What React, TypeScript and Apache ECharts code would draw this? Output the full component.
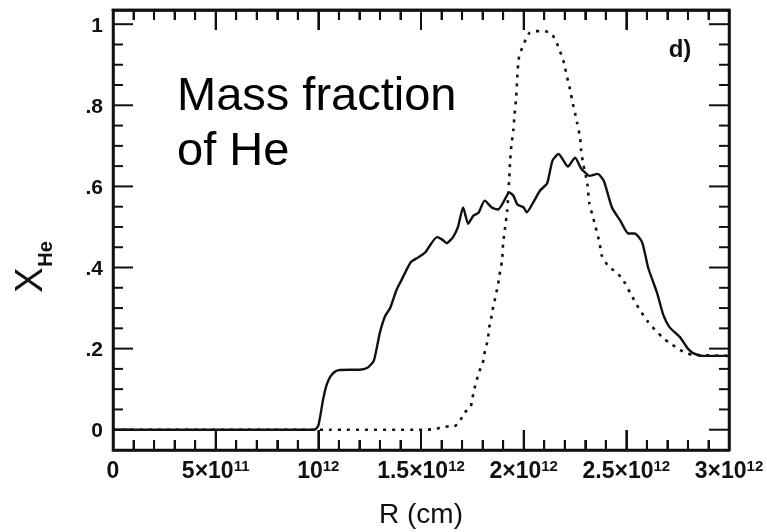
import React, { useEffect, useRef } from "react";
import * as echarts from "echarts";

// Radius in units of 10^12 cm, helium mass fraction X_He
const solidR = [
  0, 0.5, 0.98, 1.0, 1.023, 1.04, 1.057, 1.08, 1.1, 1.15, 1.2, 1.237, 1.27, 1.3, 1.325, 1.35,
  1.38, 1.4, 1.45, 1.486, 1.52, 1.578, 1.6, 1.625, 1.656, 1.68, 1.705, 1.73, 1.755, 1.78, 1.81,
  1.845, 1.875, 1.9, 1.93, 1.95, 1.97, 2.0, 2.015, 2.046, 2.08, 2.114, 2.14, 2.17, 2.216, 2.25,
  2.28, 2.3, 2.32, 2.36, 2.39, 2.43, 2.47, 2.51, 2.54, 2.577, 2.606, 2.65, 2.68, 2.71, 2.76,
  2.8, 2.825, 2.874, 3.0,
];
const solidX = [
  0, 0, 0, 0.01, 0.074, 0.11, 0.13, 0.143, 0.147, 0.148, 0.148, 0.152, 0.17, 0.24, 0.28, 0.3,
  0.344, 0.364, 0.413, 0.425, 0.437, 0.475, 0.47, 0.46, 0.475, 0.5, 0.548, 0.508, 0.528, 0.535, 0.565,
  0.548, 0.543, 0.56, 0.585, 0.577, 0.555, 0.548, 0.536, 0.56, 0.59, 0.607, 0.663, 0.68, 0.649, 0.671,
  0.644, 0.634, 0.626, 0.631, 0.614, 0.548, 0.516, 0.484, 0.484, 0.462, 0.4, 0.337, 0.283, 0.253, 0.229,
  0.2, 0.189, 0.182, 0.182,
];

const dottedR = [
  0, 1.0, 1.52, 1.57, 1.617, 1.656, 1.69, 1.705, 1.74, 1.75, 1.758, 1.77, 1.78, 1.8, 1.807, 1.817,
  1.827, 1.83, 1.84, 1.846, 1.856, 1.865, 1.875, 1.88, 1.895, 1.9, 1.91, 1.92, 1.925, 1.93, 1.934,
  1.94, 1.95, 1.955, 1.963, 1.968, 1.973, 1.98, 1.997, 2.01, 2.027, 2.055, 2.095, 2.133, 2.158, 2.172,
  2.19, 2.2, 2.21, 2.22, 2.23, 2.24, 2.25, 2.26, 2.275, 2.28, 2.29, 2.31, 2.32, 2.34, 2.37, 2.38,
  2.41, 2.445, 2.48, 2.52, 2.56, 2.606, 2.64, 2.674, 2.71, 2.747, 2.786, 2.82, 3.0,
];
const dottedX = [
  0, 0, 0, 0.002, 0.008, 0.007, 0.02, 0.04, 0.054, 0.076, 0.098, 0.118, 0.14, 0.162, 0.184, 0.204,
  0.226, 0.248, 0.268, 0.29, 0.312, 0.334, 0.356, 0.376, 0.418, 0.46, 0.5, 0.54, 0.582, 0.622, 0.663,
  0.7, 0.74, 0.774, 0.816, 0.86, 0.9, 0.926, 0.946, 0.963, 0.978, 0.983, 0.983, 0.978, 0.958, 0.939,
  0.916, 0.897, 0.872, 0.853, 0.828, 0.803, 0.781, 0.757, 0.72, 0.688, 0.656, 0.607, 0.558, 0.52, 0.46, 0.43,
  0.405, 0.39, 0.373, 0.336, 0.3, 0.266, 0.246, 0.229, 0.214, 0.202, 0.19, 0.185, 0.182,
];

// Axis ticks and labels
const xTicks = [0, 0.5, 1, 1.5, 2, 2.5, 3];
const xTickBase = ["0", "5×10", "10", "1.5×10", "2×10", "2.5×10", "3×10"];
const xTickExp = ["", "11", "12", "12", "12", "12", "12"];
const xMinorTicks: number[] = [];
for (let i = 1; i < 30; i++) if (i % 5 !== 0) xMinorTicks.push(+(i * 0.1).toFixed(2));
const yTicks = [0, 0.2, 0.4, 0.6, 0.8, 1];
const yTickLabels = ["0", ".2", ".4", ".6", ".8", "1"];
const yMinorTicks: number[] = [];
for (let i = 1; i < 20; i++) if (i % 4 !== 0) yMinorTicks.push(+(i * 0.05).toFixed(2));

const X_MIN = 0;
const X_MAX = 3;
const Y_MIN = -0.05;
const Y_MAX = 1.035;

const INK = "#111";
const FONT = "'Liberation Sans', Arial, Helvetica, sans-serif";

const isMajorX = (v: number) => xTicks.some((t) => Math.abs(t - v) < 1e-6);
const isMajorY = (v: number) => yTicks.some((t) => Math.abs(t - v) < 1e-6);

export default function App() {
  const ref = useRef<HTMLDivElement>(null);

  useEffect(() => {
    if (!ref.current) return;
    const chart = echarts.init(ref.current, null, { renderer: "svg" });

    // tick marks on the left and right frame edges: [edge R, X_He]
    const yTickMarks: number[][] = [];
    for (const edge of [X_MIN, X_MAX]) {
      yTicks.forEach((v) => yTickMarks.push([edge, v]));
      yMinorTicks.forEach((v) => yTickMarks.push([edge, v]));
    }
    // tick marks on the bottom and top frame edges: [R, edge X_He]
    const xTickMarks: number[][] = [];
    for (const edge of [Y_MIN, Y_MAX]) {
      xTicks.forEach((v) => xTickMarks.push([v, edge]));
      xMinorTicks.forEach((v) => xTickMarks.push([v, edge]));
    }

    const tickStyle = { stroke: INK, lineWidth: 2 };

    const xAxisCommon = {
      type: "value",
      min: X_MIN,
      max: X_MAX,
      interval: 0.5,
      splitLine: { show: false },
      axisLine: { show: true, onZero: false, lineStyle: { color: INK, width: 2.5 } },
      axisTick: { show: true, inside: true, length: 20, lineStyle: { color: INK, width: 2 } },
      minorTick: { show: true, splitNumber: 5, length: 10, lineStyle: { color: INK, width: 2 } },
    };

    chart.setOption({
      animation: false,
      grid: {
        left: 113,
        right: 38,
        top: 10,
        bottom: 82,
        show: true,
        borderColor: INK,
        borderWidth: 2.5,
      },
      xAxis: [
        {
          ...xAxisCommon,
          position: "bottom",
          axisLabel: {
            margin: 8,
            formatter: (v: number) => {
              const i = xTicks.findIndex((t) => Math.abs(t - v) < 1e-6);
              if (i < 0) return "";
              return xTickExp[i] ? `{b|${xTickBase[i]}}{s|${xTickExp[i]}}` : `{b|${xTickBase[i]}}`;
            },
            rich: {
              b: { fontFamily: FONT, fontSize: 23, fontWeight: "bold", color: INK, lineHeight: 24 },
              s: { fontFamily: FONT, fontSize: 15, fontWeight: "bold", color: INK, lineHeight: 10, verticalAlign: "top" },
            },
          },
        },
        { ...xAxisCommon, position: "top", axisLabel: { show: false } },
      ],
      yAxis: [
        {
          type: "value",
          position: "left",
          min: Y_MIN,
          max: Y_MAX,
          splitLine: { show: false },
          axisLine: { show: true, onZero: false, lineStyle: { color: INK, width: 2.5 } },
          axisTick: { show: false },
          axisLabel: {
            margin: 10,
            fontFamily: FONT,
            fontSize: 21,
            fontWeight: "bold",
            color: INK,
            formatter: (v: number) => {
              const i = yTicks.findIndex((t) => Math.abs(t - v) < 1e-6);
              return i < 0 ? "" : yTickLabels[i];
            },
          },
        },
        {
          type: "value",
          position: "right",
          min: Y_MIN,
          max: Y_MAX,
          splitLine: { show: false },
          axisLine: { show: true, onZero: false, lineStyle: { color: INK, width: 2.5 } },
          axisTick: { show: false },
          axisLabel: { show: false },
        },
      ],
      series: [
        {
          name: "frameTop",
          type: "custom",
          xAxisIndex: 0,
          yAxisIndex: 0,
          clip: false,
          silent: true,
          data: [[X_MIN, Y_MAX]],
          renderItem: (_params: any, api: any) => {
            const a = api.coord([X_MIN, Y_MAX]);
            const b = api.coord([X_MAX, Y_MAX]);
            return {
              type: "line",
              shape: { x1: a[0] - 1.25, y1: a[1], x2: b[0] + 1.25, y2: b[1] },
              style: { stroke: INK, lineWidth: 2.5 },
            };
          },
          z: 4,
        },
        {
          name: "xTicks",
          type: "custom",
          xAxisIndex: 0,
          yAxisIndex: 0,
          clip: false,
          silent: true,
          data: xTickMarks,
          renderItem: (_params: any, api: any) => {
            const v = api.value(0);
            const edge = api.value(1);
            const p = api.coord([v, edge]);
            const len = isMajorX(v) ? 20 : 10;
            const dir = edge < 0.5 ? -1 : 1;
            return {
              type: "line",
              shape: { x1: p[0], y1: p[1], x2: p[0], y2: p[1] + dir * len },
              style: tickStyle,
            };
          },
          z: 4,
        },
        {
          name: "yTicks",
          type: "custom",
          xAxisIndex: 0,
          yAxisIndex: 0,
          clip: false,
          silent: true,
          data: yTickMarks,
          renderItem: (_params: any, api: any) => {
            const edge = api.value(0);
            const v = api.value(1);
            const p = api.coord([edge, v]);
            const len = isMajorY(v) ? 20 : 10;
            const dir = edge < 1.5 ? 1 : -1;
            return {
              type: "line",
              shape: { x1: p[0], y1: p[1], x2: p[0] + dir * len, y2: p[1] },
              style: tickStyle,
            };
          },
          z: 4,
        },
        {
          name: "dotted",
          type: "line",
          xAxisIndex: 0,
          yAxisIndex: 0,
          showSymbol: false,
          smooth: 0.2,
          data: dottedR.map((r, i) => [r, dottedX[i]]),
          lineStyle: { color: INK, width: 2.6, type: [3, 6], cap: "butt" },
          z: 2,
        },
        {
          name: "solid",
          type: "line",
          xAxisIndex: 0,
          yAxisIndex: 0,
          showSymbol: false,
          smooth: 0.2,
          data: solidR.map((r, i) => [r, solidX[i]]),
          lineStyle: { color: INK, width: 2.4 },
          z: 3,
        },
      ],
      graphic: [
        {
          type: "text",
          left: 177,
          top: 70,
          style: { text: "Mass fraction", font: `47px ${FONT}`, fill: "#000" },
        },
        {
          type: "text",
          left: 177,
          top: 125,
          style: { text: "of He", font: `47px ${FONT}`, fill: "#000" },
        },
        {
          type: "text",
          x: 680,
          y: 48,
          style: { text: "d)", font: `bold 24px ${FONT}`, fill: INK, align: "center", verticalAlign: "middle" },
        },
        {
          type: "text",
          x: 421,
          y: 513,
          style: { text: "R (cm)", font: `28px ${FONT}`, fill: INK, align: "center", verticalAlign: "middle" },
        },
        {
          type: "text",
          x: 29,
          y: 280,
          rotation: Math.PI / 2,
          style: { text: "X", font: `38px ${FONT}`, fill: INK, align: "center", verticalAlign: "middle" },
        },
        {
          type: "text",
          x: 45,
          y: 254,
          rotation: Math.PI / 2,
          style: { text: "He", font: `bold 20px ${FONT}`, fill: INK, align: "center", verticalAlign: "middle" },
        },
      ],
    });

    return () => chart.dispose();
  }, []);

  return <div ref={ref} style={{ position: "fixed", left: 0, top: 0, width: 767, height: 532 }} />;
}
